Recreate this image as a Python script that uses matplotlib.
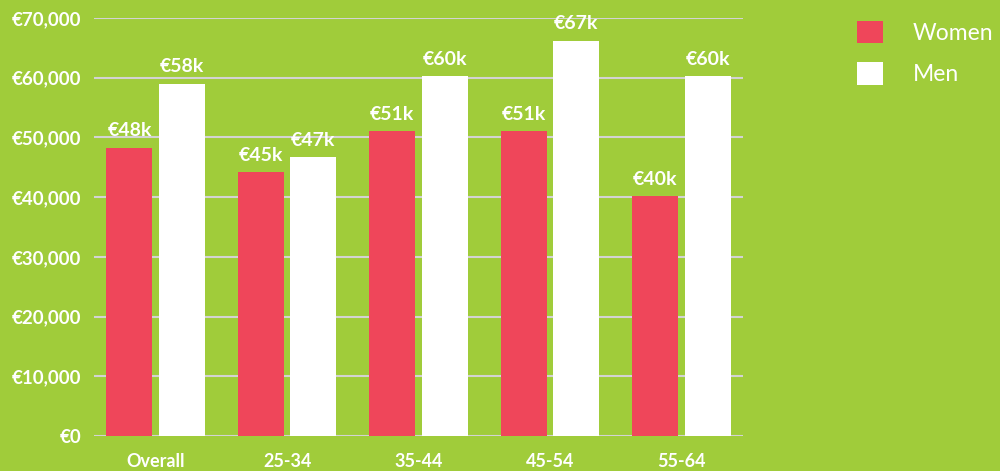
import numpy as np
import matplotlib.pyplot as plt
from matplotlib.ticker import FuncFormatter

categories = ['Overall', '25-34', '35-44', '45-54', '55-64']
women = [48300, 44200, 51100, 51100, 40200]
men = [59000, 46700, 60300, 66200, 60300]
women_labels = ['€48k', '€45k', '€51k', '€51k', '€40k']
men_labels = ['€58k', '€47k', '€60k', '€67k', '€60k']
series_names = ['Women', 'Men']

BG = '#a0cc3a'
RED = '#ef465a'
WHITE = '#ffffff'

plt.rcParams['font.family'] = ['Lato', 'DejaVu Sans']

fig = plt.figure(figsize=(10, 4.71), dpi=100, facecolor=BG)
ax = fig.add_axes([0.094, 0.0743, 0.649, 0.8875])
ax.set_facecolor(BG)

x = np.arange(len(categories))
w = 0.35
b1 = ax.bar(x - 0.2, women, w, color=RED, label=series_names[0], zorder=3)
b2 = ax.bar(x + 0.2, men, w, color=WHITE, label=series_names[1], zorder=3)

# value labels above each bar
for bars, labels in ((b1, women_labels), (b2, men_labels)):
    for rect, lab in zip(bars, labels):
        ax.annotate(lab, (rect.get_x() + rect.get_width() / 2, rect.get_height()),
                    xytext=(0, 6), textcoords='offset points', ha='center', va='bottom',
                    color='white', fontsize=14, fontweight='bold')

ax.set_xlim(-0.47, 4.47)
ax.set_ylim(0, 70000)
ax.set_yticks(range(0, 70001, 10000))
ax.yaxis.set_major_formatter(FuncFormatter(lambda v, p: f'€{int(v):,}'))
ax.set_xticks(x)
ax.set_xticklabels(categories)

ax.grid(axis='y', color='#d3d3d3', linewidth=1.5, zorder=0)
ax.tick_params(axis='both', length=0, colors='white')
ax.tick_params(axis='y', pad=9, labelsize=13.5)
ax.tick_params(axis='x', pad=12, labelsize=13)
for lab in ax.get_xticklabels() + ax.get_yticklabels():
    lab.set_fontweight('bold')
for s in ax.spines.values():
    s.set_visible(False)

leg = fig.legend(handles=[b1, b2], labels=series_names, loc='upper left',
                 bbox_to_anchor=(0.836, 1.0), frameon=False, fontsize=16.5,
                 handlelength=1.15, handleheight=1.15, handletextpad=1.3,
                 labelspacing=0.8, labelcolor='white')

plt.savefig('out.png', facecolor=BG)
